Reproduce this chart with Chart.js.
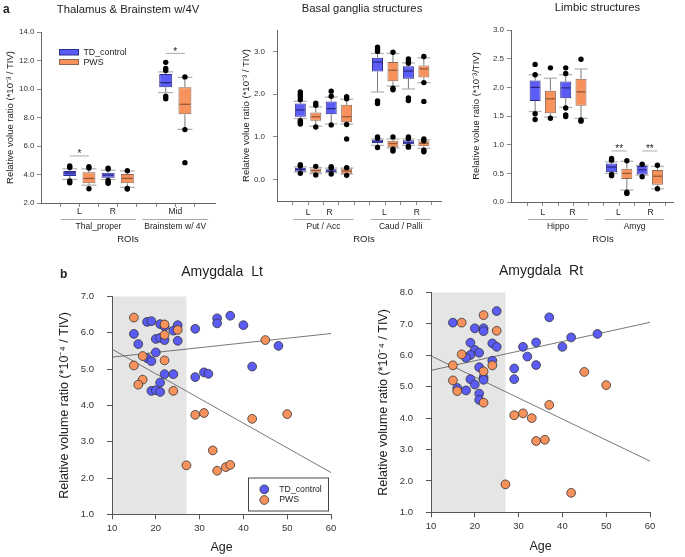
<!DOCTYPE html>
<html>
<head>
<meta charset="utf-8">
<script src="https://cdn.jsdelivr.net/npm/chart.js@4.4.0/dist/chart.umd.min.js"></script>
<style>
    body { margin: 0; background: #fff; }
    #page { position: relative; width: 685px; height: 557px; }
    #page canvas { position: absolute; left: 0; top: 0; }
</style>
</head>
<body>
<div id="page">
    <canvas id="thalChart" width="685" height="557"></canvas>
    <canvas id="basalChart" width="685" height="557"></canvas>
    <canvas id="limbicChart" width="685" height="557"></canvas>
    <canvas id="amygLtChart" width="685" height="557"></canvas>
    <canvas id="amygRtChart" width="685" height="557"></canvas>
</div>
<script>
// ---------- a: box plots, values in 10^-3 / TIV ----------
// every box is [low whisker, Q1, median, Q3, high whisker]
const thalSides = ['L', 'R', 'Mid'];
const thalGroups = ['Thal_proper', 'Thal_proper', 'Brainstem w/ 4V'];
const thalTD = [[3.65, 3.9, 4.1, 4.25, 4.4], [3.65, 3.78, 3.96, 4.13, 4.3], [9.75, 10.12, 10.44, 11.05, 11.2]];
const thalPWS = [[3.25, 3.38, 3.73, 4.15, 4.4], [3.1, 3.38, 3.73, 4.04, 4.25], [7.17, 8.22, 8.93, 10.12, 10.82]];
const thalTDOut = [[4.6, 4.5, 3.55, 3.42], [4.45, 4.38, 3.58, 3.45, 3.38], [11.87, 11.45, 11.3, 9.5, 9.32]];
const thalPWSOut = [[4.55, 4.45, 3.0], [4.27, 3.02, 2.98], [10.85, 7.15, 4.83]];
const thalSig = ['*', '', '*'];
const thalTicks = [2, 4, 6, 8, 10, 12, 14];

const bgSides = ['L', 'R', 'L', 'R'];
const bgGroups = ['Put / Acc', 'Put / Acc', 'Caud / Palli', 'Caud / Palli'];
// upper row = putamen / caudate, lower row = accumbens / pallidum
const bgUpperTD = [[1.43, 1.47, 1.63, 1.78, 1.83], [1.3, 1.53, 1.66, 1.83, 1.93], [2.05, 2.53, 2.75, 2.85, 2.95], [2.12, 2.36, 2.54, 2.65, 2.73]];
const bgUpperPWS = [[1.25, 1.38, 1.47, 1.57, 1.7], [1.3, 1.34, 1.47, 1.75, 1.88], [2.19, 2.3, 2.56, 2.75, 2.95], [2.27, 2.39, 2.59, 2.67, 2.85]];
const bgLowerTD = [[0.18, 0.19, 0.24, 0.28, 0.3], [0.16, 0.17, 0.2, 0.24, 0.27], [0.8, 0.85, 0.88, 0.93, 0.95], [0.8, 0.83, 0.86, 0.92, 0.95]];
const bgLowerPWS = [[0.14, 0.16, 0.21, 0.26, 0.28], [0.13, 0.14, 0.2, 0.26, 0.27], [0.74, 0.76, 0.84, 0.91, 0.95], [0.73, 0.78, 0.85, 0.9, 0.93]];
const bgUpperTDOut = [[2.05, 1.99, 1.94, 1.87, 1.38, 1.34, 1.3], [2.07, 1.95, 1.28], [3.1, 3.05, 3.0, 1.84, 1.78], [2.82, 2.77, 2.72, 1.91, 1.85]];
const bgUpperPWSOut = [[1.79, 1.74, 1.23], [1.94, 1.89, 1.29, 0.95], [2.98, 2.14, 2.1], [2.88, 2.27, 1.83]];
const bgLowerTDOut = [[0.35, 0.32, 0.15], [0.3, 0.27, 0.13], [1.0, 0.97, 0.75], [1.0, 0.96, 0.78, 0.76]];
const bgLowerPWSOut = [[0.31, 0.11], [0.28, 0.1], [1.0, 0.71, 0.67], [0.95, 0.91, 0.69, 0.65]];
const bgSig = ['', '', '', ''];
const bgTicks = [0, 1, 2, 3];

const limSides = ['L', 'R', 'L', 'R'];
const limGroups = ['Hippo', 'Hippo', 'Amyg', 'Amyg'];
const limTD = [[1.58, 1.76, 2.0, 2.12, 2.22], [1.65, 1.81, 1.99, 2.1, 2.22], [0.5, 0.52, 0.61, 0.67, 0.7], [0.47, 0.48, 0.56, 0.63, 0.64]];
const limPWS = [[1.48, 1.55, 1.8, 1.94, 2.16], [1.46, 1.68, 1.92, 2.15, 2.32], [0.21, 0.4, 0.5, 0.58, 0.71], [0.23, 0.3, 0.45, 0.56, 0.62]];
const limTDOut = [[2.4, 2.22, 1.54, 1.44], [2.34, 2.24, 1.64, 1.52, 1.49], [0.76, 0.73, 0.48, 0.46], [0.66, 0.44]];
const limPWSOut = [[2.34, 1.46], [2.49, 1.43, 1.41], [0.72, 0.17, 0.15], [0.64, 0.23]];
const limSig = ['', '', '**', '**'];
const limTicks = [0, 0.5, 1, 1.5, 2, 2.5, 3];

// ---------- b: amygdala volume vs age, values in 10^-4 / TIV ----------
const ltTdAge = [15, 16, 18, 19, 21, 22, 25, 24, 20, 21, 22, 25, 20, 18, 19, 22, 24, 21, 19, 20, 21, 29, 34, 34, 37, 40, 48, 42, 29, 31, 32];
const ltTdVal = [5.97, 5.69, 6.3, 6.32, 6.24, 6.17, 6.21, 6.06, 5.83, 5.86, 5.8, 5.78, 5.46, 5.3, 5.22, 4.86, 4.86, 4.63, 4.4, 4.42, 4.37, 6.11, 6.4, 6.26, 6.47, 6.21, 5.64, 5.07, 4.78, 4.91, 4.87];
const ltPwsAge = [15, 22, 25, 22, 17, 22, 15, 17, 16, 24, 45, 29, 31, 42, 50, 33, 27, 34, 36, 37];
const ltPwsVal = [6.42, 6.23, 6.08, 5.94, 5.36, 5.24, 5.1, 4.71, 4.57, 4.4, 5.8, 3.74, 3.79, 3.63, 3.76, 2.76, 2.35, 2.2, 2.3, 2.36];
const rtTdAge = [15, 20, 22, 22, 25, 19, 24, 25, 20, 21, 19, 18, 24, 21, 22, 22, 19, 16, 18, 20, 21, 21, 29, 29, 31, 32, 34, 34, 37, 42, 48, 40];
const rtTdVal = [7.04, 6.86, 6.86, 6.77, 7.41, 6.4, 6.38, 6.27, 6.17, 6.08, 6.01, 5.92, 5.83, 5.62, 5.3, 5.22, 5.24, 4.96, 4.88, 5.07, 4.78, 4.58, 5.58, 5.24, 6.27, 5.96, 6.41, 5.69, 7.21, 6.57, 6.68, 6.27];
const rtPwsAge = [17, 22, 25, 17, 15, 24, 22, 15, 16, 22, 45, 50, 37, 29, 31, 33, 34, 36, 27, 42];
const rtPwsVal = [7.04, 7.28, 6.78, 6.03, 5.68, 5.68, 5.49, 5.2, 4.86, 4.49, 5.47, 5.05, 4.42, 4.09, 4.15, 4.0, 3.27, 3.31, 1.89, 1.62];
// fitted lines, value at age 10 and age 60
const fitAges = [10, 60];
const ltFitTD = [5.33, 5.98];
const ltFitPWS = [5.55, 2.15];
const rtFitTD = [5.52, 7.05];
const rtFitPWS = [5.98, 2.63];
const youngAges = [10, 27];   // grey band

// ---------- styling ----------
const PAGE_W = 685, PAGE_H = 557;
const FONT = '"Liberation Sans", Arial, sans-serif';
const BLUE = '#5b5bf5', BLUE_EDGE = '#2c2c8c', BLUE_MED = '#1c1c66';
const ORANGE = '#f8925d', ORANGE_EDGE = '#8c6651', ORANGE_MED = '#7a4a30';

Chart.defaults.font.family = FONT;
Chart.defaults.color = '#222';
Chart.defaults.animation = false;

function text(ctx, str, x, y, size, opts = {}) {
    ctx.save();
    ctx.font = (opts.bold ? 'bold ' : '') + size + 'px ' + FONT;
    ctx.fillStyle = opts.color || '#222';
    ctx.textAlign = opts.align || 'center';
    ctx.textBaseline = opts.baseline || 'middle';
    ctx.fillText(str, x, y);
    ctx.restore();
}

function rule(ctx, x0, y0, x1, y1, color, width) {
    ctx.save();
    ctx.strokeStyle = color;
    ctx.lineWidth = width;
    ctx.beginPath();
    ctx.moveTo(x0, y0);
    ctx.lineTo(x1, y1);
    ctx.stroke();
    ctx.restore();
}

// two slots per ROI (TD, PWS) and one empty slot between structure groups
function pairSlots(groups) {
    const td = [], pws = [];
    let s = 0;
    groups.forEach((g, i) => {
        if (i > 0 && g !== groups[i - 1]) s += 1;
        td.push(s);
        pws.push(s + 1);
        s += 2;
    });
    return { td, pws, count: s };
}

function boxSet(stats, slots, fill, edge, median, width) {
    return {
        type: 'bar',
        data: stats.map((st, i) => ({ x: slots[i], y: [st[1], st[3]] })),
        backgroundColor: fill,
        borderColor: edge,
        borderWidth: 1,
        borderSkipped: false,
        grouped: false,
        barPercentage: 1,
        maxBarThickness: width,
        boxStats: stats,
        boxSlots: slots,
        boxWidth: width,
        medianColor: median,
        order: 2
    };
}

function outlierSet(outs, slots) {
    return {
        type: 'scatter',
        data: outs.flatMap((arr, i) => arr.map(v => ({ x: slots[i], y: v }))),
        pointRadius: 2.7,
        backgroundColor: '#000',
        borderWidth: 0,
        order: 1
    };
}

// whiskers, caps and medians
const boxParts = {
    id: 'boxParts',
    beforeDatasetsDraw(chart) {
        const { ctx, scales: { x, y } } = chart;
        chart.data.datasets.forEach(ds => {
            if (!ds.boxStats) return;
            const w = ds.boxWidth;
            ds.boxStats.forEach((st, i) => {
                const px = x.getPixelForValue(ds.boxSlots[i]);
                rule(ctx, px, y.getPixelForValue(st[0]), px, y.getPixelForValue(st[1]), '#777', 1);
                rule(ctx, px, y.getPixelForValue(st[3]), px, y.getPixelForValue(st[4]), '#777', 1);
                [st[0], st[4]].forEach(v => {
                    const py = y.getPixelForValue(v);
                    rule(ctx, px - w / 2 - 1, py, px + w / 2 + 1, py, '#b5b5b5', 1.3);
                });
            });
        });
    },
    afterDatasetDraw(chart, args) {
        const ds = chart.data.datasets[args.index];
        if (!ds.boxStats) return;
        const { ctx, scales: { x, y } } = chart;
        const w = ds.boxWidth;
        ds.boxStats.forEach((st, i) => {
            const px = x.getPixelForValue(ds.boxSlots[i]);
            const py = y.getPixelForValue(st[2]);
            rule(ctx, px - w / 2 + 1, py, px + w / 2 - 1, py, ds.medianColor, 1);
        });
    }
};

function drawBoxDecor(chart, p, slots) {
    const { ctx, scales: { x, y } } = chart;
    if (p.letter) text(ctx, p.letter, 3, 10, 12, { bold: true, align: 'left' });
    text(ctx, p.title, p.titleX, p.titleY, 11.3);

    if (p.legend) {
        ctx.save();
        ctx.fillStyle = BLUE; ctx.strokeStyle = BLUE_EDGE; ctx.lineWidth = 1;
        ctx.fillRect(59.5, 49.5, 19, 5.5); ctx.strokeRect(59.5, 49.5, 19, 5.5);
        ctx.fillStyle = ORANGE; ctx.strokeStyle = ORANGE_EDGE;
        ctx.fillRect(59.5, 59.5, 19, 5); ctx.strokeRect(59.5, 59.5, 19, 5);
        ctx.restore();
        text(ctx, 'TD_control', 83.5, 52.5, 8.8, { align: 'left' });
        text(ctx, 'PWS', 83.5, 62.3, 8.8, { align: 'left' });
    }

    p.sides.forEach((s, i) => text(ctx, s, x.getPixelForValue(p.sideAt[i]), p.sideY, 8.5));

    [...new Set(p.groups)].forEach(g => {
        const first = p.groups.indexOf(g), last = p.groups.lastIndexOf(g);
        const a = x.getPixelForValue(slots.td[first]);
        const b = x.getPixelForValue(slots.pws[last]);
        const cx = (a + b) / 2;
        ctx.save();
        ctx.font = '8.5px ' + FONT;
        const half = Math.max((b - a) / 2 + 0.45 * (x.getPixelForValue(1) - x.getPixelForValue(0)),
            ctx.measureText(g).width / 2 + 2);
        ctx.restore();
        rule(ctx, cx - half, 219.5, cx + half, 219.5, '#aaa', 1);
        text(ctx, g, cx, 226.3, 8.5);
    });
    text(ctx, 'ROIs', p.roiX, 239, 9.5);

    p.sig.forEach((s, i) => {
        if (!s) return;
        const py = y.getPixelForValue(p.sigY[i]);
        const a = x.getPixelForValue(slots.td[i]);
        const b = x.getPixelForValue(slots.pws[i]);
        rule(ctx, a, py, b, py, '#aaa', 1);
        text(ctx, s, (a + b) / 2, py + 1.5, 10, { baseline: 'alphabetic' });
    });
}

function boxChart(id, p) {
    const slots = pairSlots(p.groups);
    const datasets = [];
    p.rows.forEach(row => {
        datasets.push(boxSet(row.td, slots.td, BLUE, BLUE_EDGE, BLUE_MED, p.boxW));
        datasets.push(boxSet(row.pws, slots.pws, ORANGE, ORANGE_EDGE, ORANGE_MED, p.boxW));
        datasets.push(outlierSet(row.tdOut, slots.td));
        datasets.push(outlierSet(row.pwsOut, slots.pws));
    });
    const a = p.area;
    new Chart(document.getElementById(id), {
        type: 'scatter',
        data: { datasets },
        options: {
            responsive: false,
            animation: false,
            layout: { padding: { left: a.l - p.yW, right: PAGE_W - a.r, top: a.t, bottom: PAGE_H - a.b - 10 } },
            plugins: { legend: { display: false }, tooltip: { enabled: false } },
            scales: {
                x: {
                    type: 'linear',
                    min: p.xMin,
                    max: p.xMax,
                    afterBuildTicks: s => { s.ticks = Array.from({ length: slots.count }, (_, i) => ({ value: i })); },
                    afterFit: s => { s.height = 10; },
                    ticks: { display: false },
                    grid: { drawOnChartArea: false, tickLength: 4, color: '#888' },
                    border: { color: '#666' }
                },
                y: {
                    min: p.yMin,
                    max: p.yMax,
                    afterBuildTicks: s => { s.ticks = p.yTicks.map(v => ({ value: v })); },
                    afterFit: s => { s.width = p.yW; },
                    ticks: { callback: v => v.toFixed(1), font: { size: 8 }, padding: p.tickPad, color: '#333' },
                    grid: { drawOnChartArea: false, tickLength: 4, color: '#888' },
                    border: { color: '#666' },
                    title: { display: true, text: p.yTitle, font: { size: 9.5 }, padding: { top: 4, bottom: 0 }, color: '#222' }
                }
            }
        },
        plugins: [boxParts, { id: 'boxDecor', afterDraw: c => drawBoxDecor(c, p, slots) }]
    });
}

boxChart('thalChart', {
    groups: thalGroups, sides: thalSides, sig: thalSig, yTicks: thalTicks,
    rows: [{ td: thalTD, pws: thalPWS, tdOut: thalTDOut, pwsOut: thalPWSOut }],
    yMin: 2, yMax: 14, xMin: -0.85, xMax: 6.92,
    area: { l: 41, r: 215, t: 32, b: 203 }, yW: 40, tickPad: 2.5, boxW: 13,
    title: 'Thalamus & Brainstem w/4V', titleX: 128, titleY: 10, letter: 'a', legend: true,
    yTitle: 'Relative volue ratio (*10⁻³ / TIV)',
    sideAt: [0.5, 2.25, 5.5], sideY: 212, sigY: [5.3, 0, 12.5], roiX: 128
});

boxChart('basalChart', {
    groups: bgGroups, sides: bgSides, sig: bgSig, yTicks: bgTicks,
    rows: [
        { td: bgUpperTD, pws: bgUpperPWS, tdOut: bgUpperTDOut, pwsOut: bgUpperPWSOut },
        { td: bgLowerTD, pws: bgLowerPWS, tdOut: bgLowerTDOut, pwsOut: bgLowerPWSOut }
    ],
    yMin: -0.5, yMax: 3.5, xMin: -0.92, xMax: 8.52,
    area: { l: 277, r: 441, t: 30, b: 201 }, yW: 40, tickPad: 8, boxW: 11,
    title: 'Basal ganglia structures', titleX: 362, titleY: 8.5,
    yTitle: 'Relative volue ratio (*10⁻³ / TIV)',
    sideAt: [0.5, 1.9, 5.45, 7.55], sideY: 212.3, sigY: [0, 0, 0, 0], roiX: 364
});

boxChart('limbicChart', {
    groups: limGroups, sides: limSides, sig: limSig, yTicks: limTicks,
    rows: [{ td: limTD, pws: limPWS, tdOut: limTDOut, pwsOut: limPWSOut }],
    yMin: 0, yMax: 3, xMin: -0.99, xMax: 8.43,
    area: { l: 511, r: 673, t: 30, b: 202 }, yW: 44, tickPad: 3, boxW: 11,
    title: 'Limbic structures', titleX: 597.5, titleY: 8,
    yTitle: 'Relative volue ratio (*10⁻³/TIV)',
    sideAt: [0.5, 2.45, 5.45, 7.55], sideY: 213, sigY: [0, 0, 0.89, 0.89], roiX: 603
});

function scatterChart(id, p) {
    const pts = (xs, ys) => xs.map((v, i) => ({ x: v, y: ys[i] }));
    const a = p.area;
    const dot = { borderColor: '#333', borderWidth: 0.8, pointRadius: 4.4 };
    const fit = { showLine: true, borderColor: '#555', borderWidth: 0.8, pointRadius: 0, order: 3 };
    new Chart(document.getElementById(id), {
        type: 'scatter',
        data: {
            datasets: [
                { label: 'PWS', data: pts(p.pwsAge, p.pwsVal), backgroundColor: ORANGE, order: 1, ...dot },
                { label: 'TD_control', data: pts(p.tdAge, p.tdVal), backgroundColor: BLUE, order: 2, ...dot },
                { label: 'TD fit', data: pts(fitAges, p.fitTD), ...fit },
                { label: 'PWS fit', data: pts(fitAges, p.fitPWS), ...fit }
            ]
        },
        options: {
            responsive: false,
            animation: false,
            layout: { padding: { left: a.l - p.yW, right: PAGE_W - a.r, top: a.t, bottom: PAGE_H - a.b - p.xH } },
            plugins: { legend: { display: false }, tooltip: { enabled: false } },
            scales: {
                x: {
                    min: 10, max: 60,
                    afterFit: s => { s.height = p.xH; },
                    ticks: { stepSize: 10, font: { size: 9.5 }, padding: 3, color: '#333' },
                    grid: { drawOnChartArea: false, tickLength: 5, color: '#555' },
                    border: { color: '#555' },
                    title: { display: true, text: 'Age', font: { size: 12.5 }, padding: { top: 0, bottom: 0 }, color: '#222' }
                },
                y: {
                    min: 1, max: p.yMax,
                    afterFit: s => { s.width = p.yW; },
                    ticks: { stepSize: 1, callback: v => v.toFixed(1), font: { size: 9.5 }, padding: 13, color: '#333' },
                    grid: { drawOnChartArea: false, tickLength: 5, color: '#555' },
                    border: { color: '#555' },
                    title: { display: true, text: 'Relative volume ratio (*10⁻⁴ / TIV)', font: { size: 12.5 }, padding: { top: 4, bottom: 0 }, color: '#222' }
                }
            }
        },
        plugins: [{
            id: 'scatterDecor',
            beforeDraw(chart) {
                const { ctx, scales: { x, y } } = chart;
                const x0 = x.getPixelForValue(youngAges[0]) + 0.5;
                const x1 = x.getPixelForValue(youngAges[1]);
                ctx.save();
                ctx.fillStyle = '#e5e5e5';
                ctx.fillRect(x0, y.getPixelForValue(p.yMax), x1 - x0, y.getPixelForValue(1) - y.getPixelForValue(p.yMax));
                ctx.restore();
            },
            afterDraw(chart) {
                const ctx = chart.ctx;
                if (p.letter) text(ctx, p.letter, 60, 274.5, 12, { bold: true, align: 'left' });
                text(ctx, p.title, p.titleX, p.titleY, 14);
                if (p.legend) {
                    ctx.save();
                    ctx.strokeStyle = '#444';
                    ctx.lineWidth = 1;
                    ctx.strokeRect(248.5, 478, 80, 33);
                    [[BLUE, 489.3], [ORANGE, 500]].forEach(([c, cy]) => {
                        ctx.beginPath();
                        ctx.arc(264.3, cy, 4.4, 0, Math.PI * 2);
                        ctx.fillStyle = c;
                        ctx.fill();
                        ctx.strokeStyle = '#333';
                        ctx.lineWidth = 0.8;
                        ctx.stroke();
                    });
                    ctx.restore();
                    text(ctx, 'TD_control', 279.3, 489.3, 8.7, { align: 'left' });
                    text(ctx, 'PWS', 279.3, 500, 8.7, { align: 'left' });
                }
            }
        }]
    });
}

scatterChart('amygLtChart', {
    tdAge: ltTdAge, tdVal: ltTdVal, pwsAge: ltPwsAge, pwsVal: ltPwsVal, fitTD: ltFitTD, fitPWS: ltFitPWS,
    yMax: 7, area: { l: 112, r: 331, t: 296.5, b: 514.3 }, yW: 58.5, xH: 41.2,
    title: 'Amygdala  Lt', titleX: 222, titleY: 272, letter: 'b', legend: true
});

scatterChart('amygRtChart', {
    tdAge: rtTdAge, tdVal: rtTdVal, pwsAge: rtPwsAge, pwsVal: rtPwsVal, fitTD: rtFitTD, fitPWS: rtFitPWS,
    yMax: 8, area: { l: 431, r: 650, t: 292.5, b: 512.3 }, yW: 59, xH: 41.9,
    title: 'Amygdala  Rt', titleX: 541, titleY: 271
});
</script>
</body>
</html>
